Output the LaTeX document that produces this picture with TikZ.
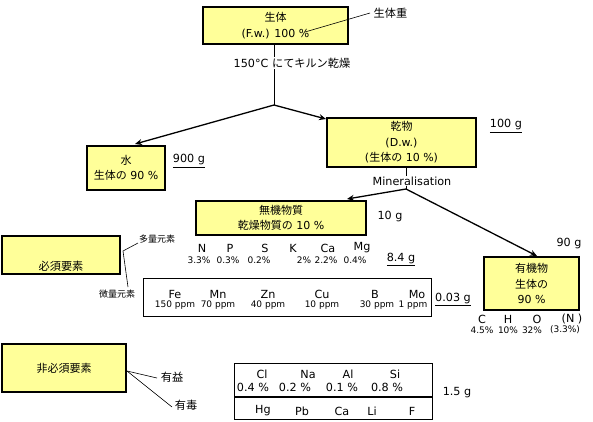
\documentclass[tikz,border=0pt]{standalone}
\usepackage{fontspec}
\setmainfont{DejaVu Sans}
\newfontfamily\jp{Noto Sans CJK JP}
\usetikzlibrary{arrows.meta}
\definecolor{yel}{HTML}{FFFF99}
\begin{document}
\begin{tikzpicture}[x=1pt,y=-1pt,
  ybox/.style={draw, line width=1.6pt, fill=yel, align=center, inner sep=0pt,
    font=\fontsize{11}{15.5}\selectfont},
  lbl/.style={font=\fontsize{11.2}{12}\selectfont, inner sep=0.5pt},
  sml/.style={font=\fontsize{9}{10}\selectfont, inner sep=0pt},
  tiny/.style={font=\fontsize{9}{10}\selectfont\jp, inner sep=0pt},
  arr/.style={line width=1.3pt, -{Stealth[length=7pt,width=6pt]}},
  lead/.style={line width=0.6pt},
  conn/.style={line width=0.8pt}]
\fill[white] (0,0) rectangle (593,421);
\useasboundingbox (0,0) rectangle (593,421);

% main boxes
\node[ybox, minimum width=145, minimum height=37] (fw) at (275.5,25.5) {{\jp 生体}\\(F.w.) 100 \%};
\node[ybox, minimum width=78, minimum height=44] (water) at (126,168) {{\jp 水}\\{\jp 生体の} 90 \%};
\node[ybox, minimum width=149, minimum height=49] (dry) at (401.5,142.5) {{\jp 乾物}\\(D.w.)\\({\jp 生体の} 10 \%)};
\node[ybox, minimum width=170, minimum height=34] (inorg) at (281,218) {{\jp 無機物質}\\{\jp 乾燥物質の} 10 \%};
\node[ybox, minimum width=95, minimum height=53] (org) at (531.5,283.5) {{\jp 有機物}\\{\jp 生体の}\\90 \%};
\node[ybox, minimum width=118, minimum height=38] (hissu) at (61,255) {};
\node[lbl] (hissut) at (61,266) {\jp 必須要素};
\node[ybox, minimum width=124, minimum height=48] (hihissu) at (64,368) {\jp 非必須要素};

% fresh weight leader
\coordinate (fwl) at (305,32);
\coordinate (fwr) at (370,13);
\draw[lead] (fwl) -- (fwr);
\node[lbl, anchor=west] (seitaiju) at (373,13) {\jp 生体重};

% drying
\coordinate (j1) at (274,105);
\draw[conn] (fw.south -| j1) -- (j1);
\node[lbl, fill=white] (kiln) at (292,63) {150°C {\jp にてキルン乾燥}};
\coordinate (wa) at (135,144);
\coordinate (da) at (326,119);
\draw[arr] (j1) -- (wa);
\draw[arr] (j1) -- (da);

% mineralisation
\coordinate (j2) at (406,189);
\draw[conn] (dry.south -| j2) -- (j2);
\node[lbl, fill=white] (minl) at (412,181) {Mineralisation};
\coordinate (ia) at (347,199);
\coordinate (oa) at (537,256);
\draw[arr] (j2) -- (ia);
\draw[arr] (j2) -- (oa);

% masses
\node[lbl] (m900) at (189,161) {\underline{900 g}};
\node[lbl] (m100) at (506,126) {\underline{100 g}};
\node[lbl] (m10) at (390,217) {10 g};
\node[lbl] (m84) at (401,259) {\underline{8.4 g}};
\node[lbl] (m003) at (453,299) {\underline{0.03 g}};
\node[lbl] (m90) at (569,244) {90 g};
\node[lbl] (m15) at (457,393) {1.5 g};

% macro elements
\foreach \n/\x/\t in {eN/202/N, eP/230/P, eS/265/S, eK/293/K, eCa/328/Ca, eMg/362/Mg}
  \node[lbl] (\n) at (\x,248) {\t};
\foreach \n/\x/\t in {pN/199/3.3\%, pP/228/0.3\%, pS/259/0.2\%, pK/304/2\%, pCa/326/2.2\%, pMg/355/0.4\%}
  \node[sml] (\n) at (\x,260) {\t};

% essential leaders
\coordinate (hk) at (123,251);
\coordinate (hA) at (138,243);
\coordinate (hB) at (128,287);
\draw[lead] (hA) -- (hk) -- (hB);
\node[tiny] (taryo) at (157,239) {多量元素};
\node[tiny] (biryo) at (117,294) {微量元素};

% trace elements
\draw[line width=0.8pt] (143,278) rectangle (431,316);
\foreach \n/\x/\t in {tFe/175/Fe, tMn/218/Mn, tZn/268/Zn, tCu/322/Cu, tB/375/B, tMo/417/Mo}
  \node[lbl] (\n) at (\x,294) {\t};
\foreach \n/\x/\t in {qFe/175/150 ppm, qMn/218/70 ppm, qZn/268/40 ppm, qCu/322/10 ppm, qB/377/30 ppm, qMo/413/1 ppm}
  \node[sml] (\n) at (\x,305) {\t};

% organic composition
\foreach \n/\x/\t in {oC/482/C, oH/508/H, oO/537/O, oN/572/(N )}
  \node[lbl] (\n) at (\x,319) {\t};
\foreach \n/\x/\t in {rC/482/4.5\%, rH/508/10\%, rO/532/32\%, rN/565/(3.3\%)}
  \node[sml] (\n) at (\x,330) {\t};

% non-essential leaders
\coordinate (nk) at (127,371);
\coordinate (nA) at (157,378);
\coordinate (nB) at (172,407);
\draw[lead] (nk) -- (nA);
\draw[lead] (nk) -- (nB);
\node[lbl] (yueki) at (172,377) {\jp 有益};
\node[lbl] (yudoku) at (186,405) {\jp 有毒};

% non-essential table
\draw[line width=0.8pt] (234,363) rectangle (432,419);
\draw[line width=2pt] (234,397) -- (432,397);
\foreach \n/\x/\t in {bCl/262/Cl, bNa/308/Na, bAl/348/Al, bSi/395/Si}
  \node[lbl] (\n) at (\x,374.5) {\t};
\foreach \n/\x/\t in {cCl/253/0.4 \%, cNa/295/0.2 \%, cAl/342/0.1 \%, cSi/387/0.8 \%}
  \node[lbl] (\n) at (\x,387) {\t};
\foreach \n/\x/\t in {dHg/263/Hg, dPb/302/Pb, dCa/342/Ca, dLi/372/Li, dF/412/F}
  \node[lbl] (\n) at (\x,411) {\t};
\end{tikzpicture}
\end{document}
